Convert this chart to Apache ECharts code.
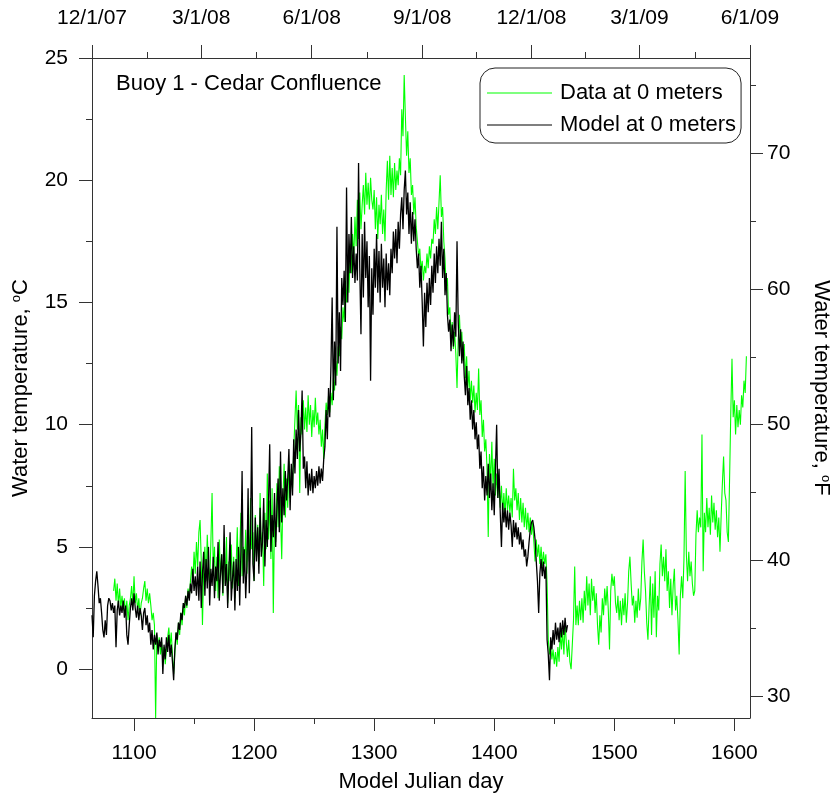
<!DOCTYPE html>
<html>
<head>
<meta charset="utf-8">
<script src="https://cdn.jsdelivr.net/npm/echarts@6/dist/echarts.min.js"></script>
<style>
  html, body { margin: 0; padding: 0; background: #fff; }
  #chart { width: 836px; height: 798px; }
</style>
</head>
<body>
<div id="chart"></div>
<script>
// Axis ticks and labels
const dayTicks = [1100, 1200, 1300, 1400, 1500, 1600];
const dayMinorTicks = [1150, 1250, 1350, 1450, 1550];
const dateTickDays = [1065, 1156, 1248, 1340, 1431, 1521, 1613];
const dateTickLabels = ['12/1/07', '3/1/08', '6/1/08', '9/1/08', '12/1/08', '3/1/09', '6/1/09'];
const dateMinorTickDays = [1111, 1202, 1294, 1385, 1476, 1567];
const celsiusTicks = [0, 5, 10, 15, 20, 25];
const celsiusMinorTicks = [2.5, 7.5, 12.5, 17.5, 22.5];
const fahrenheitTicks = [30, 40, 50, 60, 70];
const fahrenheitMinorTicks = [35, 45, 55, 65, 75];

// Measured surface temperature (deg C), one value per day from dataStartDay
const dataStartDay = 1083;
const dataTemps = [
  3.2, 3.7, 2.8, 3.5, 2.6, 3.3, 2.5, 3.0, 2.4, 2.9,
  2.2, 2.8, 2.0, 2.6, 2.9, 3.4, 2.6, 3.8, 2.7, 3.1,
  2.4, 2.9, 2.2, 2.7, 2.9, 3.3, 3.6, 2.8, 3.3, 2.7,
  3.1, 2.6, 2.0, 2.3, 1.8, -2.0, 1.4, 0.9, 1.3, 0.6,
  1.1, 0.3, 0.9, 0.2, 0.8, 1.3, 1.7, 0.9, 1.5, 0.6,
  -0.2, 0.7, 1.5, 1.0, 1.9, 1.4, 2.3, 1.8, 2.6, 2.2,
  3.0, 2.5, 3.3, 2.9, 3.6, 4.2, 3.5, 4.8, 3.9, 5.2,
  4.2, 5.6, 6.1, 4.4, 1.8, 4.0, 5.0, 3.6, 5.5, 4.2,
  3.4, 5.2, 7.2, 4.0, 5.0, 3.2, 4.6, 2.9, 5.3, 3.8,
  4.7, 3.0, 4.9, 3.5, 5.4, 2.7, 4.4, 3.6, 5.1, 3.3,
  4.6, 2.9, 4.2, 5.8, 3.4, 4.8, 6.4, 3.8, 5.0, 4.1,
  5.7, 3.9, 6.0, 4.4, 7.0, 4.9, 5.6, 3.6, 6.3, 4.6,
  5.9, 4.3, 7.2, 4.8, 5.6, 3.4, 6.4, 4.9, 8.0, 5.3,
  6.9, 4.5, 7.4, 2.3, 6.1, 5.2, 7.6, 5.8, 8.3, 6.4,
  4.5, 7.0, 8.4, 6.2, 7.8, 6.6, 8.5, 7.0, 8.2, 7.4,
  9.0, 10.2, 11.4, 9.8, 10.8, 7.2, 10.3, 9.6, 11.0, 9.8,
  10.7, 9.7, 11.2, 10.0, 10.8, 9.5, 10.6, 9.9, 11.1, 10.0,
  10.5, 9.6, 10.2, 9.1, 9.8, 8.6, 10.0, 10.9, 10.4, 11.2,
  10.5, 11.3, 10.8, 11.9, 11.4, 12.6, 12.0, 13.2, 12.8, 14.0,
  13.5, 14.8, 14.2, 15.8, 15.0, 16.6, 15.4, 17.4, 16.2, 17.8,
  16.8, 18.5, 17.3, 19.2, 17.6, 19.5, 18.0, 19.0, 19.8, 18.6,
  20.3, 19.0, 19.9, 18.8, 20.1, 19.2, 18.8, 19.6, 18.0, 19.3,
  17.6, 19.0, 18.2, 19.4, 17.8, 18.8, 17.5, 19.6, 20.8, 19.2,
  21.0, 19.4, 20.5, 19.3, 20.7, 19.6, 20.4, 19.8, 20.9, 20.2,
  22.9, 21.8, 24.3, 22.6, 21.0, 22.0, 20.3, 20.9, 19.4, 19.8,
  18.6, 19.3, 18.1, 17.5, 16.9, 17.2, 16.3, 16.7, 15.9, 16.5,
  16.2, 17.0, 16.4, 17.3, 16.8, 17.6, 17.4, 18.4, 17.8, 18.9,
  18.0, 19.1, 20.2, 18.5, 18.9, 17.5, 16.8, 15.6, 16.0, 14.5,
  14.8, 13.6, 14.2, 13.1, 13.8, 12.9, 11.5, 13.5, 14.5, 13.2,
  13.8, 12.6, 13.3, 11.9, 12.8, 11.5, 12.2, 11.0, 11.8, 10.9,
  11.6, 10.5, 11.3, 10.6, 12.3, 10.4, 11.0, 9.5, 10.2, 8.9,
  9.4, 8.2, 5.4, 8.8, 7.6, 9.3, 7.4, 8.6, 7.1, 8.0,
  7.0, 7.7, 6.6, 7.5, 6.4, 7.2, 6.3, 7.4, 6.5, 7.1,
  6.4, 7.0, 6.2, 8.2, 6.9, 7.4, 6.5, 7.2, 6.1, 7.0,
  6.0, 6.8, 5.8, 6.6, 5.7, 6.4, 5.6, 6.2, 5.5, 6.0,
  5.2, 4.4, 5.3, 4.6, 5.1, 4.3, 5.0, 4.2, 4.8, 4.3,
  4.7, 3.5, 1.2, 0.6, 1.0, 0.4, 0.8, 0.2, 0.7, 0.1,
  0.9, 0.3, 1.5, 0.8, 1.6, 0.6, 1.9, 1.1, 0.5, 1.2,
  0.3, 0.0, 1.0, 2.0, 4.2, 1.8, 2.6, 1.8, 2.8, 2.0,
  2.9, 1.9, 3.2, 2.4, 3.8, 2.6, 3.5, 2.2, 3.7, 2.8,
  3.4, 2.3, 3.1, 1.8, 1.0, 2.2, 1.5, 2.9, 2.2, 3.3,
  2.6, 3.4, 2.4, 0.8, 3.2, 3.9, 3.4, 3.8, 2.7, 2.3,
  3.0, 2.0, 2.8, 1.8, 2.9, 2.2, 3.1, 1.9, 2.7, 4.0,
  4.6, 3.5, 2.6, 3.0, 1.9, 2.8, 2.1, 3.3, 2.4, 2.9,
  4.4, 5.3, 4.0, 3.2, 1.9, 1.2, 2.6, 3.8, 1.4, 3.5,
  2.1, 4.0, 1.3, 3.0, 2.4, 4.3, 5.1, 3.8, 4.6, 3.6,
  4.9, 3.2, 4.0, 2.5, 3.7, 2.2, 3.4, 4.1, 2.4, 3.0,
  2.0, 0.6, 3.0, 3.8, 2.9, 4.5, 8.1, 4.7, 3.6, 4.8,
  3.8, 4.4, 3.5, 3.0, 3.2, 5.5, 6.5, 5.6, 6.2, 5.8,
  9.6, 4.0, 6.4, 5.6, 7.0, 5.8, 6.6, 5.5, 7.1, 6.0,
  6.8, 5.7, 6.5, 5.4, 6.2, 4.8, 6.3, 7.6, 8.7, 7.2,
  6.9, 5.6, 5.2, 7.8, 10.5, 12.7, 10.3, 11.0, 9.6, 10.8,
  9.9, 10.6, 10.0, 11.2, 10.7, 11.8, 11.3, 12.8
];

// Modelled surface temperature (deg C), one value per day from modelStartDay
const modelStartDay = 1065;
const modelTemps = [
  2.2, 1.3, 3.0, 3.6, 4.0, 3.4, 2.7, 2.9, 2.3, 1.6,
  1.3, 2.0, 1.4, 2.6, 2.9, 2.8, 2.4, 2.7, 2.3, 2.6,
  0.9, 2.4, 2.8, 2.2, 2.6, 2.3, 2.8, 2.1, 2.6, 1.4,
  1.0, 1.8, 2.5, 2.9, 2.4, 3.1, 2.5, 2.1, 2.6, 2.0,
  2.5, 2.2, 1.6, 2.3, 2.5, 1.8, 2.2, 1.5, 1.9, 1.0,
  1.6, 0.8, 1.4, 1.0, 1.5, 0.6, 1.2, 0.9, 1.3, -0.2,
  1.0, 0.4, 1.3, 0.7, 1.4, 0.5, 1.0, 0.3, -0.45, 0.8,
  1.5, 1.2, 1.9, 1.6, 2.3, 2.0, 2.7, 2.5, 3.0, 2.6,
  3.2, 2.8, 3.5, 3.1, 4.1, 3.2, 3.8, 3.0, 4.2, 2.8,
  4.4, 2.5, 3.9, 4.8, 3.0, 4.5, 3.3, 5.0, 2.6, 4.1,
  3.4, 4.6, 2.9, 4.2, 3.6, 5.2, 2.8, 3.9, 4.7, 3.1,
  5.9, 3.4, 4.3, 2.5, 4.0, 5.6, 2.8, 3.7, 4.4, 2.4,
  4.5, 3.2, 5.0, 2.6, 4.8, 8.1, 3.5, 4.9, 2.9, 4.2,
  7.4, 3.1, 5.4, 9.9, 4.3, 3.6, 6.2, 4.4, 5.8, 3.9,
  6.6, 4.6, 5.2, 7.0, 4.2, 6.1, 5.0, 6.8, 9.2, 4.8,
  6.3, 5.4, 7.2, 5.0, 6.6, 7.8, 5.6, 8.9, 6.0, 7.4,
  6.3, 8.1, 6.9, 7.8, 9.0, 6.5, 8.4, 7.1, 9.4, 8.0,
  9.8, 8.6, 10.6, 8.9, 9.7, 11.4, 8.2, 8.7, 7.4, 8.5,
  7.1, 8.0, 7.3, 8.2, 7.2, 7.9, 7.4, 8.1, 7.5, 8.3,
  7.6, 8.2, 7.7, 8.6, 9.1, 10.6, 9.4, 11.5, 10.3, 12.4,
  15.2, 11.0, 13.4, 11.6, 18.1, 12.5, 14.6, 12.2, 16.0, 14.9,
  16.3, 14.2, 19.7, 15.0, 17.8, 16.2, 18.5, 16.0, 17.3, 15.8,
  17.0, 15.9, 20.7, 16.4, 13.7, 17.8, 15.2, 18.3, 16.0, 17.5,
  14.8, 16.9, 11.8, 16.4, 14.5, 17.2, 15.6, 17.8, 15.4, 17.1,
  15.0, 17.4, 15.6, 16.8, 14.8, 17.0, 15.5, 16.6, 15.3, 17.2,
  16.2, 17.9, 16.8, 18.0, 16.6, 18.3, 17.2, 18.6, 19.3, 18.0,
  19.6, 20.4, 18.6, 19.5, 17.8, 19.1, 17.4, 18.7, 17.5, 18.4,
  17.2, 16.4, 17.0, 15.6, 16.5, 15.0, 13.2, 15.4, 14.0, 15.8,
  14.6, 16.0, 14.9, 16.5, 15.4, 17.0, 15.8, 17.3, 16.2, 17.6,
  16.5, 18.3, 16.0, 17.2, 15.3, 16.2, 14.5, 13.8, 14.3, 13.0,
  14.1, 13.2, 14.6, 13.6, 17.5, 14.2, 12.8, 13.9, 12.5, 13.4,
  12.0, 11.2, 12.4, 10.8, 11.5, 10.2, 11.0, 9.8, 10.6, 9.4,
  10.1, 9.0, 9.6, 8.2, 8.9, 7.4, 8.3, 6.9, 7.9, 7.1,
  8.4, 7.0, 8.0, 6.5, 7.6, 6.3, 8.2, 10.0, 7.0, 8.2,
  6.4, 5.0, 6.8, 6.0, 6.6, 5.8, 6.5, 5.7, 6.4, 5.9,
  5.0, 6.1, 5.4, 6.0, 5.3, 5.8, 5.1, 5.6, 4.9, 5.3,
  4.6, 4.9, 4.2, 4.6, 5.2, 5.7, 6.0, 6.1, 5.8, 5.3,
  4.4, 3.6, 2.3, 3.9, 4.5, 3.8, 4.4, 3.7, 4.2, 1.2,
  0.6, -0.45, 1.3, 0.8, 1.6, 1.0, 1.9, 1.2, 1.7, 1.1,
  1.9, 1.3, 2.0, 1.4, 2.1, 1.5, 1.8
];

const FONT = "'Liberation Sans', Arial, sans-serif";
const AXIS_COLOR = '#333';
const DAY_MIN = 1065, DAY_MAX = 1613;
const C_MIN = -2, C_MAX = 25;
const toF = c => c * 9 / 5 + 32;

const toPairs = (start, temps) => temps.map((t, i) => [start + i, t]);

// An axis that only draws a set of short tick marks (minor ticks)
function tickOnlyAxis(position, min, max, values) {
  return {
    type: 'value', position, min, max, gridIndex: 0,
    axisLine: { show: false, onZero: false },
    axisTick: { show: true, length: 6, customValues: values, lineStyle: { color: AXIS_COLOR, width: 1 } },
    axisLabel: { show: false },
    splitLine: { show: false }
  };
}

function mainAxis(position, min, max, ticks, extra) {
  return Object.assign({
    type: 'value', position, min, max, gridIndex: 0,
    axisLine: { show: true, onZero: false, lineStyle: { color: AXIS_COLOR, width: 1 } },
    axisTick: { show: true, length: 13, customValues: ticks, lineStyle: { color: AXIS_COLOR, width: 1 } },
    axisLabel: {
      customValues: ticks, fontSize: 21, color: '#000', fontFamily: FONT,
      formatter: v => String(v)
    },
    splitLine: { show: false }
  }, extra);
}

const chart = echarts.init(document.getElementById('chart'), null, { renderer: 'canvas' });

const nameStyle = {
  fontSize: 22, color: '#000', fontFamily: FONT,
  rich: { sup: { fontSize: 13, verticalAlign: 'top', fontFamily: FONT, color: '#000' } }
};

const bottomAxis = mainAxis('bottom', DAY_MIN, DAY_MAX, dayTicks, {
  name: 'Model Julian day', nameLocation: 'middle', nameGap: 53,
  nameTextStyle: { fontSize: 22, color: '#000', fontFamily: FONT }
});
bottomAxis.axisLabel.margin = 25;

const topAxis = mainAxis('top', DAY_MIN, DAY_MAX, dateTickDays, {});
topAxis.axisLabel.margin = 29;
topAxis.axisLabel.showMinLabel = true;
topAxis.axisLabel.showMaxLabel = true;
topAxis.axisLabel.formatter = v => {
  const i = dateTickDays.indexOf(Math.round(v));
  return i >= 0 ? dateTickLabels[i] : '';
};

const leftAxis = mainAxis('left', C_MIN, C_MAX, celsiusTicks, {
  name: 'Water temperature, {sup|o}C', nameLocation: 'middle', nameGap: 60,
  nameTextStyle: nameStyle
});
leftAxis.axisLabel.margin = 24;

const rightAxis = mainAxis('right', toF(C_MIN), toF(C_MAX), fahrenheitTicks, {
  name: 'Water temperature, {sup|o}F', nameLocation: 'middle', nameGap: 60, nameRotate: -90,
  nameTextStyle: nameStyle
});
rightAxis.axisLabel.margin = 17;

chart.setOption({
  animation: false,
  backgroundColor: '#fff',
  grid: { left: 92, right: 86, top: 58, bottom: 80, containLabel: false, outerBoundsMode: 'none' },
  title: {
    text: 'Buoy 1 - Cedar Confluence',
    left: 116, top: 73, padding: 0,
    textStyle: { fontSize: 22, fontWeight: 'normal', color: '#000', fontFamily: FONT }
  },
  legend: {
    data: ['Data at 0 meters', 'Model at 0 meters'],
    orient: 'vertical', left: 480, top: 68,
    padding: [14, 5, 7, 7], itemGap: 10,
    itemWidth: 65, itemHeight: 1, icon: 'rect',
    borderColor: '#222', borderWidth: 1, borderRadius: 15,
    selectedMode: false,
    textStyle: { fontSize: 22, lineHeight: 22, color: '#000', fontFamily: FONT, padding: [0, 0, 0, 3] }
  },
  xAxis: [
    bottomAxis,
    tickOnlyAxis('bottom', DAY_MIN, DAY_MAX, dayMinorTicks),
    topAxis,
    tickOnlyAxis('top', DAY_MIN, DAY_MAX, dateMinorTickDays)
  ],
  yAxis: [
    leftAxis,
    tickOnlyAxis('left', C_MIN, C_MAX, celsiusMinorTicks),
    rightAxis,
    tickOnlyAxis('right', toF(C_MIN), toF(C_MAX), fahrenheitMinorTicks)
  ],
  series: [
    {
      name: 'Data at 0 meters', type: 'line', xAxisIndex: 0, yAxisIndex: 0,
      data: toPairs(dataStartDay, dataTemps),
      symbol: 'none', showSymbol: false, sampling: null,
      lineStyle: { color: '#00ff00', width: 1.1 }, itemStyle: { color: '#00ff00' },
      z: 2
    },
    {
      name: 'Model at 0 meters', type: 'line', xAxisIndex: 0, yAxisIndex: 0,
      data: toPairs(modelStartDay, modelTemps),
      symbol: 'none', showSymbol: false, sampling: null,
      lineStyle: { color: '#000000', width: 1.3 }, itemStyle: { color: '#000000' },
      z: 3
    }
  ]
});
</script>
</body>
</html>
